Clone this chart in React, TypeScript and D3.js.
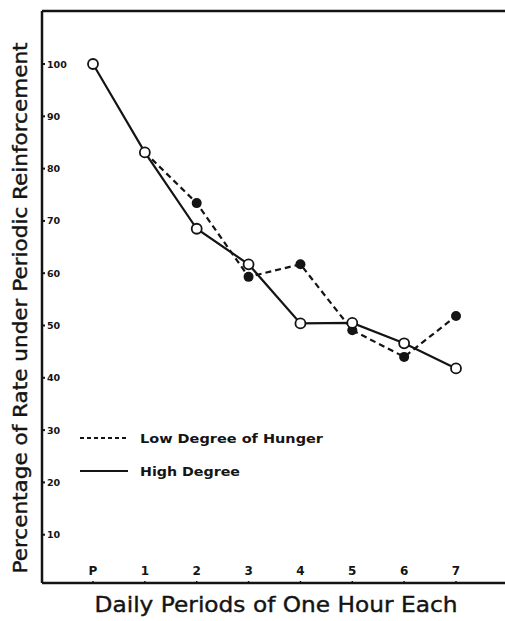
import React from "react";
import * as d3 from "d3";

const categories = ["P", "1", "2", "3", "4", "5", "6", "7"];
const highDegree = [100, 83.1, 68.5, 61.7, 50.4, 50.5, 46.6, 41.8];
const lowDegree = [100, 83.1, 73.4, 59.3, 61.7, 49.1, 44.0, 51.8];
const yTicks = [100, 90, 80, 70, 60, 50, 40, 30, 20, 10];
const legendLabels = ["Low Degree of Hunger", "High Degree"];
const yTitle = "Percentage of Rate under Periodic Reinforcement";
const xTitle = "Daily Periods of One Hour Each";

const W = 505;
const H = 621;
const axisX = 42;
const topY = 11;
const bottomY = 583;

export default function App() {
  const x = d3.scalePoint<string>().domain(categories).range([93, 456]);
  const y = d3.scaleLinear().domain([0, 100]).range([587, 64]);
  const highLine = d3
    .line<number>()
    .x((_, i) => x(categories[i]) as number)
    .y((d) => y(d));
  const lowLine = d3
    .line<number>()
    .x((_, i) => x(categories[i + 1]) as number)
    .y((d) => y(d));
  const font = "'DejaVu Sans', 'Liberation Sans', sans-serif";
  const ink = "#141414";

  return (
    <svg
      width={W}
      height={H}
      style={{ position: "absolute", left: 0, top: 0, background: "#fff" }}
    >
      <rect x={0} y={0} width={W} height={H} fill="#fff" />
      {/* frame */}
      <line x1={axisX} x2={W} y1={topY} y2={topY} stroke={ink} strokeWidth={2.5} />
      <line x1={axisX} x2={axisX} y1={topY} y2={bottomY} stroke={ink} strokeWidth={2.5} />
      <line x1={axisX} x2={W} y1={bottomY} y2={bottomY} stroke={ink} strokeWidth={2.5} />

      {/* y ticks */}
      {yTicks.map((t) => (
        <g key={t}>
          <line x1={axisX} x2={axisX + 3} y1={y(t)} y2={y(t)} stroke={ink} strokeWidth={2} />
          <text
            x={axisX + 5}
            y={y(t) + 3.5}
            fontFamily={font}
            fontWeight="bold"
            fontSize={9.5}
            fill={ink}
          >
            {t}
          </text>
        </g>
      ))}

      {/* x ticks */}
      {categories.map((c) => (
        <g key={c}>
          <line
            x1={x(c) as number}
            x2={x(c) as number}
            y1={bottomY}
            y2={bottomY - 2}
            stroke={ink}
            strokeWidth={1.5}
          />
          <text
            x={x(c) as number}
            y={575}
            textAnchor="middle"
            fontFamily={font}
            fontWeight="bold"
            fontSize={12}
            fill={ink}
          >
            {c}
          </text>
        </g>
      ))}

      {/* lines */}
      <path
        d={lowLine(lowDegree.slice(1)) as string}
        fill="none"
        stroke={ink}
        strokeWidth={2.2}
        strokeDasharray="6,4"
      />
      <path d={highLine(highDegree) as string} fill="none" stroke={ink} strokeWidth={2.2} />

      {/* low degree points (filled) */}
      {lowDegree.map((v, i) =>
        i < 2 ? null : (
          <circle key={"l" + i} cx={x(categories[i]) as number} cy={y(v)} r={5} fill={ink} />
        )
      )}
      {/* high degree points (open) */}
      {highDegree.map((v, i) => (
        <circle
          key={"h" + i}
          cx={x(categories[i]) as number}
          cy={y(v)}
          r={5}
          fill="#fff"
          stroke={ink}
          strokeWidth={1.8}
        />
      ))}

      {/* legend */}
      <line x1={80} x2={128} y1={438} y2={438} stroke={ink} strokeWidth={2} strokeDasharray="4,3" />
      <text
        x={140}
        y={443}
        fontFamily={font}
        fontWeight="bold"
        fontSize={13}
        fill={ink}
        textLength={183}
        lengthAdjust="spacingAndGlyphs"
      >
        {legendLabels[0]}
      </text>
      <line x1={80} x2={128} y1={471} y2={471} stroke={ink} strokeWidth={2} />
      <text
        x={140}
        y={476}
        fontFamily={font}
        fontWeight="bold"
        fontSize={13}
        fill={ink}
        textLength={100}
        lengthAdjust="spacingAndGlyphs"
      >
        {legendLabels[1]}
      </text>

      {/* axis titles */}
      <text
        transform="translate(27,308) rotate(-90)"
        textAnchor="middle"
        fontFamily={font}
        fontSize={20}
        fill={ink}
        stroke={ink}
        strokeWidth={0.4}
        textLength={531}
        lengthAdjust="spacingAndGlyphs"
      >
        {yTitle}
      </text>
      <text
        x={276}
        y={612}
        textAnchor="middle"
        fontFamily={font}
        fontSize={22}
        fill={ink}
        stroke={ink}
        strokeWidth={0.4}
        textLength={363}
        lengthAdjust="spacingAndGlyphs"
      >
        {xTitle}
      </text>
    </svg>
  );
}
